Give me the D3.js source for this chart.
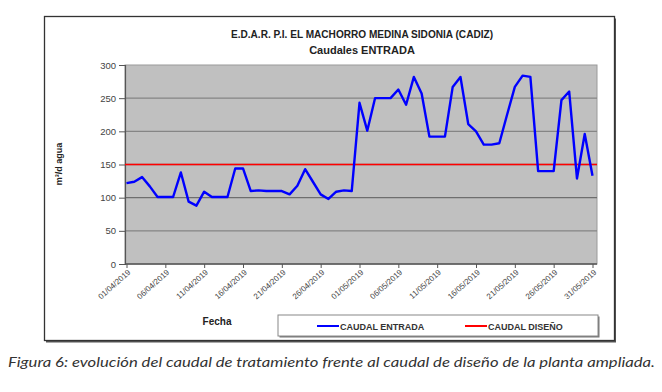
<!DOCTYPE html>
<html><head><meta charset="utf-8">
<script src="https://cdn.jsdelivr.net/npm/d3@7"></script>
<style>body{margin:0;background:#fff;}svg{display:block;font-family:"Liberation Sans",Arial,sans-serif;}</style>
</head><body>
<svg id="c" width="662" height="392"></svg>
<script>
const startDate = "2019-04-01";
const caudalEntrada = [122,124,131,117,101,101,101,138,94,88,109,101,101,101,144,144,110,111,110,110,110,105,118,143,124,105,98,109,111,110,243,201,250,250,250,263,240,282,257,192,192,192,267,282,211,200,180,180,182,225,267,284,282,140,140,140,247,260,129,196,133];
const caudalDiseno = 150;
const yTicks = [0,50,100,150,200,250,300];
const xTickLabels = ["01/04/2019","06/04/2019","11/04/2019","16/04/2019","21/04/2019","26/04/2019","01/05/2019","06/05/2019","11/05/2019","16/05/2019","21/05/2019","26/05/2019","31/05/2019"];
const seriesNames = ["CAUDAL ENTRADA","CAUDAL DISEÑO"];
const seriesColors = ["#0000ff","#ff0000"];
const titleLines = ["E.D.A.R. P.I. EL MACHORRO MEDINA SIDONIA (CADIZ)","Caudales ENTRADA"];
const yLabel = "m³/d agua";
const xLabel = "Fecha";
const caption = "Figura 6: evolución del caudal de tratamiento frente al caudal de diseño de la planta ampliada.";

const parse = d3.timeParse("%d/%m/%Y");
const t0 = d3.timeParse("%Y-%m-%d")(startDate);
const dates = caudalEntrada.map((_, i) => d3.timeDay.offset(t0, i));
const tickDates = xTickLabels.map(parse);
const fmt = d3.timeFormat("%d/%m/%Y");
const FONT = "'Liberation Sans',Arial,sans-serif";

const svg = d3.select("#c");
const P = {l:125, r:597, t:65, b:264};
const x = d3.scaleTime().domain([dates[0], dates[dates.length-1]]).range([126.5, 592.5]);
const y = d3.scaleLinear().domain([0,300]).range([P.b, P.t]);

// chart frame with shadow
svg.append("rect").attr("x",46).attr("y",18.5).attr("width",570).attr("height",324).attr("fill","#555");
svg.append("rect").attr("x",44.5).attr("y",16.5).attr("width",570).attr("height",324).attr("fill","#fff").attr("stroke","#333").attr("stroke-width",1.3);

// plot area
svg.append("rect").attr("x",P.l).attr("y",P.t).attr("width",P.r-P.l).attr("height",P.b-P.t)
  .attr("fill","#c0c0c0").attr("stroke","#9a9a9a").attr("stroke-width",1);

// gridlines
svg.append("g").selectAll("line").data(yTicks.filter(v=>v>0 && v<300)).join("line")
  .attr("x1",P.l).attr("x2",P.r).attr("y1",d=>y(d)).attr("y2",d=>y(d))
  .attr("stroke",d=>d===100?"#6e6e6e":"#858585").attr("stroke-width",1.4);

// y axis
const ya = svg.append("g").attr("transform",`translate(${P.l},0)`)
  .call(d3.axisLeft(y).tickValues(yTicks).tickSize(6).tickPadding(3).tickFormat(d3.format("d")));
ya.attr("font-family",FONT);
ya.select(".domain").attr("stroke","#555").attr("stroke-width",1.2);
ya.selectAll(".tick line").attr("stroke","#555");
ya.selectAll("text").attr("font-size",9.5).attr("fill","#444");

// x axis
const xa = svg.append("g").attr("transform",`translate(0,${P.b})`)
  .call(d3.axisBottom(x).tickValues(tickDates).tickSize(4).tickFormat(fmt));
xa.attr("font-family",FONT);
xa.select(".domain").attr("stroke","#555").attr("stroke-width",1.4).attr("d",`M${P.l},0H${P.r}`);
xa.selectAll(".tick line").attr("stroke","#555");
xa.selectAll("text").attr("font-size",8).attr("fill","#444")
  .attr("text-anchor","end").attr("dy",0).attr("y",0)
  .attr("transform","translate(4,9) rotate(-42)");

// design line
svg.append("line").attr("x1",P.l).attr("x2",P.r).attr("y1",y(caudalDiseno)).attr("y2",y(caudalDiseno))
  .attr("stroke",seriesColors[1]).attr("stroke-width",1.6);

// entrada line
svg.append("path").datum(caudalEntrada)
  .attr("d",d3.line().x((d,i)=>x(dates[i])).y(d=>y(d)))
  .attr("fill","none").attr("stroke",seriesColors[0]).attr("stroke-width",2.4).attr("stroke-linejoin","round");

// titles
svg.append("text").attr("x",362).attr("y",38).attr("text-anchor","middle").attr("font-size",10).attr("font-weight","bold").attr("fill","#222")
  .attr("textLength",262).attr("lengthAdjust","spacingAndGlyphs").text(titleLines[0]);
svg.append("text").attr("x",362).attr("y",54).attr("text-anchor","middle").attr("font-size",11).attr("font-weight","bold").attr("fill","#222").text(titleLines[1]);

// axis labels
svg.append("text").attr("transform","translate(62,164) rotate(-90)").attr("text-anchor","middle")
  .attr("font-size",9).attr("font-weight","bold").attr("fill","#222").text(yLabel);
svg.append("text").attr("x",217).attr("y",325).attr("text-anchor","middle")
  .attr("font-size",10).attr("font-weight","bold").attr("fill","#222").text(xLabel);

// legend
svg.append("rect").attr("x",279.5).attr("y",316.5).attr("width",320).attr("height",21).attr("fill","#777");
svg.append("rect").attr("x",278).attr("y",315).attr("width",320).attr("height",21).attr("fill","#fff").attr("stroke","#888").attr("stroke-width",1);
const lg = svg.append("g").selectAll("g").data(seriesNames).join("g")
  .attr("transform",(d,i)=>`translate(${i===0?317:465},326)`);
lg.append("line").attr("x1",0).attr("x2",22).attr("stroke",(d,i)=>seriesColors[i]).attr("stroke-width",2);
lg.append("text").attr("x",23).attr("y",3.5).attr("font-size",9).attr("font-weight","bold").attr("fill","#333").text(d=>d);

// caption
svg.append("text").attr("x",8).attr("y",367).attr("font-family","Lato,'Open Sans',sans-serif").attr("font-style","italic")
  .attr("font-size",14).attr("fill","#333").attr("textLength",647).attr("lengthAdjust","spacingAndGlyphs").text(caption);
</script>
</body></html>
